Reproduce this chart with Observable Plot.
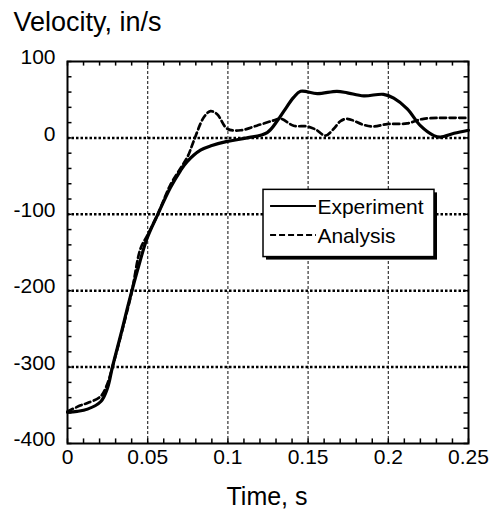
<!DOCTYPE html>
<html><head><meta charset="utf-8">
<script src="https://cdn.jsdelivr.net/npm/d3@7"></script>
<script src="https://cdn.jsdelivr.net/npm/@observablehq/plot@0.6"></script>
<style>body{margin:0;background:#fff}</style>
</head><body><div id="chart"></div>
<script>
const expTime = [0, 0.006, 0.0125, 0.0208, 0.025, 0.028, 0.0333, 0.0384, 0.045, 0.0497, 0.0563, 0.0642, 0.0704, 0.0746, 0.0829, 0.09, 0.0996, 0.112, 0.1245, 0.1307, 0.1349, 0.141, 0.1453, 0.1557, 0.168, 0.1745, 0.1847, 0.197, 0.2034, 0.2118, 0.22, 0.2284, 0.2325, 0.241, 0.25];
const expVel  = [-359, -358, -355, -345, -327, -300, -257, -214, -163, -131, -100, -65, -43, -31, -16, -10, -4.6, 0, 7, 22, 35, 53, 61, 58, 61, 59, 55, 57, 52, 38, 16, 3, 1, 6, 10];
const anaTime = [0, 0.0083, 0.0125, 0.0208, 0.025, 0.028, 0.0351, 0.040, 0.0455, 0.0497, 0.0563, 0.064, 0.0704, 0.075, 0.0787, 0.085, 0.0891, 0.0933, 0.0996, 0.108, 0.118, 0.1287, 0.133, 0.141, 0.1494, 0.1547, 0.1608, 0.166, 0.1702, 0.1744, 0.1847, 0.191, 0.1993, 0.2118, 0.222, 0.25];
const anaVel  = [-358, -350, -347, -338, -321, -300, -244, -202, -145, -128, -100, -62, -40, -24, -4, 27, 35, 31, 12, 10, 16, 23, 25, 16, 15, 11, 3, 12, 22, 25, 17, 15, 18, 19, 25, 26];

const seriesNames = ["Experiment", "Analysis"];
const xTicks = [0, 0.05, 0.1, 0.15, 0.2, 0.25];
const xTickLabels = ["0", "0.05", "0.1", "0.15", "0.2", "0.25"];
const yTicks = [-400, -300, -200, -100, 0, 100];
const yTickLabels = ["-400", "-300", "-200", "-100", "0", "100"];
const xMinor = d3.range(0, 0.2501, 0.01);
const yMinor = d3.range(-400, 101, 20);
const xLabel = "Time, s";
const yLabel = "Velocity, in/s";

const exp = expTime.map((t, i) => ({t, v: expVel[i]}));
const ana = anaTime.map((t, i) => ({t, v: anaVel[i]}));

const chart = Plot.plot({
  width: 490, height: 510,
  marginLeft: 67, marginRight: 22, marginTop: 61, marginBottom: 67,
  x: {domain: [0, 0.25]},
  y: {domain: [-400, 100]},
  style: {fontFamily: "'Liberation Sans', Arial, sans-serif", color: "black", background: "white", overflow: "visible"},
  marks: [
    Plot.ruleX(xTicks.slice(1, -1), {stroke: "#222", strokeWidth: 1.1, strokeDasharray: "3,2"}),
    Plot.ruleY(yTicks.slice(1, -1), {stroke: "black", strokeWidth: 2.5, strokeDasharray: "2.5,2"}),
    Plot.ruleX(xMinor, {x: d => d, y1: -400, y2: -394, strokeWidth: 1.5}),
    Plot.ruleX(xMinor, {x: d => d, y1: 100, y2: 94, strokeWidth: 1.5}),
    Plot.ruleY(yMinor, {y: d => d, x1: 0, x2: 0.0028, strokeWidth: 1.5}),
    Plot.ruleY(yMinor, {y: d => d, x1: 0.25, x2: 0.2472, strokeWidth: 1.5}),
    Plot.line(exp, {x: "t", y: "v", stroke: "black", strokeWidth: 3.2, curve: "catmull-rom"}),
    Plot.line(ana, {x: "t", y: "v", stroke: "black", strokeWidth: 2.7, strokeDasharray: "6,3.5", curve: "catmull-rom"}),
    Plot.frame({stroke: "black", strokeWidth: 2}),
    // legend
    Plot.rect([0], {x1: 0.1222, x2: 0.2288, y1: -68, y2: -156, fill: "black", dx: 3, dy: 3}),
    Plot.rect([0], {x1: 0.1222, x2: 0.2288, y1: -68, y2: -156, fill: "white", stroke: "black", strokeWidth: 1.5}),
    Plot.ruleY([-89], {x1: 0.1266, x2: 0.1552, stroke: "black", strokeWidth: 2}),
    Plot.ruleY([-127], {x1: 0.1266, x2: 0.1552, stroke: "black", strokeWidth: 2, strokeDasharray: "6,3"}),
    Plot.text([seriesNames[0]], {x: 0.1558, y: -89, text: d => d, textAnchor: "start", fontSize: 21, dy: 1}),
    Plot.text([seriesNames[1]], {x: 0.1558, y: -127, text: d => d, textAnchor: "start", fontSize: 21, dy: 1}),
    // axes
    Plot.axisX(xTicks, {tickSize: 0, tickPadding: 6, fontSize: 21, label: null, tickFormat: d => xTickLabels[xTicks.indexOf(d)]}),
    Plot.axisY(yTicks, {tickSize: 0, tickPadding: 12, fontSize: 21, label: null, dy: -4, tickFormat: d => yTickLabels[yTicks.indexOf(d)]}),
    Plot.text([yLabel], {frameAnchor: "top-left", text: d => d, textAnchor: "start", lineAnchor: "bottom", dx: -54, dy: -31, fontSize: 27}),
    Plot.text([xLabel], {frameAnchor: "bottom", text: d => d, lineAnchor: "bottom", dx: -1, dy: 61, fontSize: 25})
  ]
});
document.getElementById("chart").appendChild(chart);
</script>
</body></html>
